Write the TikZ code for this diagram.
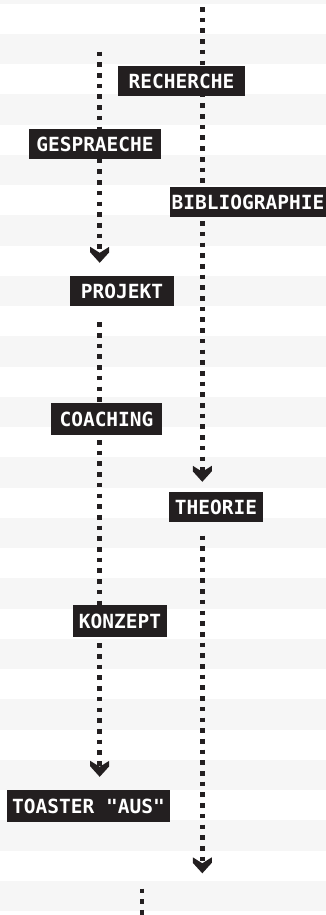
\documentclass[tikz,border=0pt]{standalone}
\usepackage{fontspec}
\newfontfamily\pixfont{DejaVu Sans Mono}
\usetikzlibrary{arrows.meta}

\definecolor{ink}{RGB}{35,31,32}
\definecolor{stripe}{RGB}{246,246,246}

% downward chevron tip with a notch at the back
\pgfdeclarearrow{
  name = Chev,
  setup code = {
    \pgfarrowssettipend{0pt}
    \pgfarrowssetlineend{-8pt}
    \pgfarrowssetbackend{-16pt}
    \pgfarrowssetvisualbackend{-16pt}
    \pgfarrowshullpoint{0pt}{0pt}
    \pgfarrowsupperhullpoint{-16pt}{9.5pt}
  },
  drawing code = {
    \pgfsetfillcolor{ink}
    \pgfpathmoveto{\pgfpoint{0pt}{0pt}}
    \pgfpathlineto{\pgfpoint{-10.5pt}{9.5pt}}
    \pgfpathlineto{\pgfpoint{-16pt}{9.5pt}}
    \pgfpathlineto{\pgfpoint{-10pt}{0pt}}
    \pgfpathlineto{\pgfpoint{-16pt}{-9.5pt}}
    \pgfpathlineto{\pgfpoint{-10.5pt}{-9.5pt}}
    \pgfpathclose
    \pgfusepathqfill
  }
}

\pgfdeclarelayer{stripes}
\pgfdeclarelayer{lines}
\pgfsetlayers{stripes,lines,main}

\tikzset{
  lab/.style={fill=ink, text=white, inner sep=0pt, minimum height=30pt,
    font=\pixfont\bfseries\fontsize{19.5}{20}\selectfont},
  dotline/.style={draw=ink, line width=4.6pt, line cap=butt,
    dash pattern=on 4.6pt off 6.1pt},
}

\begin{document}
\begin{tikzpicture}[x=1pt,y=-1pt]
\useasboundingbox (0,0) rectangle (326,915);
\clip (0,0) rectangle (326,915);

% striped background
\begin{pgfonlayer}{stripes}
  \fill[white] (0,0) rectangle (326,915);
  \foreach \k in {-1,...,14}
    \fill[stripe] (0,{33.8+60.5*\k}) rectangle (326,{64.3+60.5*\k});
\end{pgfonlayer}

% labels
\node[lab, minimum width=127pt] (rech) at (181.5,81) {RECHERCHE};
\node[lab, minimum width=132pt] (gesp) at (95,144) {GESPRAECHE};
\node[lab, minimum width=156pt] (bibl) at (248,202) {BIBLIOGRAPHIE};
\node[lab, minimum width=104pt] (proj) at (122,291) {PROJEKT};
\node[lab, minimum width=111pt, minimum height=32pt] (coach) at (106.5,419) {COACHING};
\node[lab, minimum width=94pt] (theo) at (216,507) {THEORIE};
\node[lab, minimum width=94pt, minimum height=32pt] (konz) at (120,621) {KONZEPT};
\node[lab, minimum width=163pt, minimum height=32pt] (toast) at (88.5,806) {TOASTER "AUS"};

% free ends of the dotted paths
\coordinate (rtop) at (202.3,7.1);
\coordinate (ltop) at (99.7,51.7);
\coordinate (rend) at (202.3,873.3);
\coordinate (btop) at (142,888.5);
\coordinate (bbot) at (142,930);

% dotted connectors
\begin{pgfonlayer}{lines}
  \draw[dotline, -Chev, shorten >=10pt] (rtop) -- (rtop |- theo.north);
  \draw[dotline, -Chev, shorten >=13pt] (ltop) -- (ltop |- proj.north);
  \draw[dotline, -Chev, shorten <=16.1pt, shorten >=13pt]
    (ltop |- proj.south) -- (ltop |- toast.north);
  \draw[dotline, -Chev, shorten <=13.4pt] (rtop |- theo.south) -- (rend);
  \draw[dotline] (btop) -- (bbot);
\end{pgfonlayer}
\end{tikzpicture}
\end{document}
